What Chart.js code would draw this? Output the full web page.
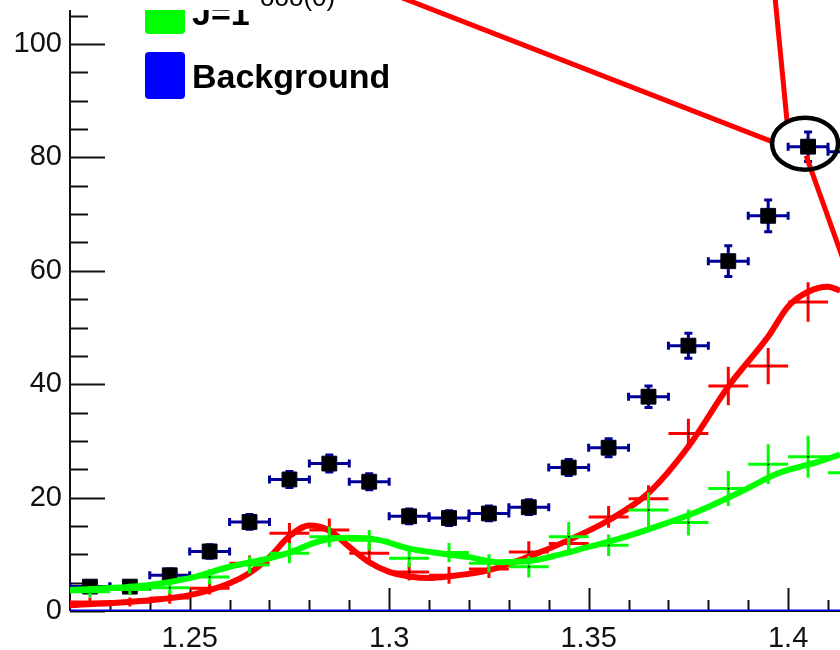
<!DOCTYPE html>
<html>
<head>
<meta charset="utf-8">
<script src="https://cdn.jsdelivr.net/npm/chart.js@4.4.0/dist/chart.umd.min.js"></script>
<style>
  html, body { margin: 0; padding: 0; background: #fff; }
</style>
</head>
<body>
<canvas id="plot" width="840" height="650"></canvas>
<script>
// bin centres and the measured yield (black squares)
var binCenters = [1.225, 1.235, 1.245, 1.255, 1.265, 1.275, 1.285, 1.295, 1.305, 1.315,
                  1.325, 1.335, 1.345, 1.355, 1.365, 1.375, 1.385, 1.395, 1.405, 1.415];
var dataY   = [4.3, 4.3, 6.3, 10.5, 15.7, 23.2, 26.0, 22.8, 16.7, 16.4,
               17.2, 18.3, 25.3, 28.8, 37.8, 46.8, 61.7, 69.7, 81.9, 81.0];
var dataErr = [1.0, 1.0, 1.1, 1.2, 1.3, 1.4, 1.5, 1.4, 1.3, 1.3,
               1.3, 1.3, 1.4, 1.6, 1.9, 2.2, 2.7, 2.8, 2.6, 2.7];

// red component (crosses)
var redY   = [1.6, 1.6, 2.3, 4.0, 8.4, 13.7, 14.3, 10.2, 6.9, 6.3,
              7.4, 10.4, 11.9, 16.6, 19.8, 31.3, 39.7, 43.2, 54.5, null];
var redErr = [0.8, 0.8, 1.0, 1.1, 1.4, 1.8, 2.0, 1.7, 1.5, 1.5,
              1.6, 1.9, 1.9, 1.9, 2.4, 2.6, 3.4, 3.2, 3.5, null];

// J=1 component (green crosses)
var greenY   = [3.4, 3.8, 4.1, 6.0, 8.1, 10.2, 13.1, 12.5, 9.3, 10.3,
                8.4, 7.8, 13.1, 11.6, 17.8, 15.6, 21.6, 25.9, 27.2, 24.4];
var greenErr = [1.0, 1.0, 1.1, 1.3, 1.5, 1.8, 1.8, 1.8, 1.6, 1.7,
                1.6, 1.9, 2.6, 1.9, 3.1, 2.3, 3.1, 3.5, 3.7, 3.5];

// smooth curves
var redCurveX = [1.22, 1.24, 1.25, 1.26, 1.265, 1.27, 1.275, 1.28, 1.285, 1.29, 1.295, 1.30,
                 1.305, 1.31, 1.315, 1.325, 1.335, 1.345, 1.355, 1.365, 1.375, 1.385, 1.395,
                 1.40, 1.405, 1.41, 1.413];
var redCurveY = [1.0, 1.9, 2.8, 4.9, 6.7, 9.5, 13.2, 15.1, 14.2, 11.3, 8.6, 6.9,
                 6.1, 5.8, 6.1, 7.2, 9.6, 12.5, 16.0, 20.8, 29.0, 39.6, 48.4,
                 53.7, 56.3, 57.2, 56.5];
var greenCurveX = [1.22, 1.24, 1.25, 1.26, 1.27, 1.275, 1.2825, 1.29, 1.2975, 1.305, 1.3125,
                   1.32, 1.3275, 1.335, 1.3425, 1.35, 1.3575, 1.3675, 1.3775, 1.3875, 1.3975,
                   1.4075, 1.413];
var greenCurveY = [3.7, 4.6, 5.8, 7.8, 9.3, 10.3, 12.3, 12.9, 12.5, 11.0, 10.2,
                   9.5, 8.6, 8.8, 9.9, 11.3, 12.7, 15.0, 17.6, 20.8, 24.3,
                   26.3, 27.6];
var bgX = [1.22, 1.413];
var bgY = [0, 0];

var xTicks = [1.25, 1.3, 1.35, 1.4];
var yTicks = [0, 20, 40, 60, 80, 100];
var legendLabels = ['J=1', 'Background'];
var topLabel = 'ooo(0)';
var halfBin = 0.005;
var circledBin = 18;

function pts(xs, ys) {
    return xs.map(function (x, i) { return { x: x, y: ys[i] }; });
}

// error bars / crosses, drawn just before their own dataset
var errorBars = {
    id: 'errorBars',
    beforeDatasetDraw: function (chart, args) {
        var ds = chart.data.datasets[args.index];
        if (!ds.errY) return;
        var xs = chart.scales.x, ys = chart.scales.y, ctx = chart.ctx;
        var area = chart.chartArea;
        ctx.save();
        ctx.beginPath();
        ctx.rect(area.left, 0, chart.width, area.bottom + 2);
        ctx.clip();
        ctx.strokeStyle = ds.errColor;
        ctx.lineWidth = 3;
        ds.data.forEach(function (p, i) {
            if (p.y == null) return;
            var e = ds.errY[i];
            var x0 = xs.getPixelForValue(p.x - halfBin), x1 = xs.getPixelForValue(p.x + halfBin);
            var px = xs.getPixelForValue(p.x), py = ys.getPixelForValue(p.y);
            var yt = ys.getPixelForValue(p.y + e), yb = ys.getPixelForValue(p.y - e);
            ctx.beginPath();
            ctx.moveTo(x0, py); ctx.lineTo(x1, py);
            ctx.moveTo(px, yt); ctx.lineTo(px, yb);
            if (ds.errCaps) {
                var c = 4;
                ctx.moveTo(x0, py - c); ctx.lineTo(x0, py + c);
                ctx.moveTo(x1, py - c); ctx.lineTo(x1, py + c);
                ctx.moveTo(px - c, yt); ctx.lineTo(px + c, yt);
                ctx.moveTo(px - c, yb); ctx.lineTo(px + c, yb);
            }
            ctx.stroke();
        });
        ctx.restore();
    }
};

// ROOT style axes: ticks pointing into the frame
var frameAxes = {
    id: 'frameAxes',
    beforeDatasetsDraw: function (chart) {
        var ctx = chart.ctx, a = chart.chartArea;
        var xs = chart.scales.x, ys = chart.scales.y;
        ctx.save();
        ctx.strokeStyle = '#111';
        ctx.lineWidth = 2;
        ctx.beginPath();
        ctx.moveTo(a.left, a.top); ctx.lineTo(a.left, a.bottom);
        ctx.moveTo(a.left, a.bottom); ctx.lineTo(a.right, a.bottom);
        var v, p;
        for (v = 0; v <= ys.max + 0.01; v += 5) {
            p = Math.round(ys.getPixelForValue(v)) + 0.5;
            var len = (v % 20 === 0) ? 35 : 18;
            ctx.moveTo(a.left, p); ctx.lineTo(a.left + len, p);
        }
        for (var k = 123; k / 100 <= xs.max; k++) {
            p = Math.round(xs.getPixelForValue(k / 100)) + 0.5;
            var l2 = (k % 5 === 0) ? 23 : 11;
            ctx.moveTo(p, a.bottom); ctx.lineTo(p, a.bottom - l2);
        }
        ctx.stroke();
        ctx.restore();
    }
};

// legend, cropped header text and the red zoom lines with the ellipse
var overlay = {
    id: 'overlay',
    afterDraw: function (chart) {
        var ctx = chart.ctx;
        var xs = chart.scales.x, ys = chart.scales.y;
        ctx.save();

        ctx.fillStyle = '#000';
        ctx.font = '26px "Liberation Sans", Arial, sans-serif';
        ctx.textBaseline = 'alphabetic';
        ctx.fillText(topLabel, 260, 6);

        ctx.save();
        ctx.beginPath();
        ctx.rect(0, 10, chart.width, chart.height);
        ctx.clip();
        ctx.fillStyle = '#00ff00';
        ctx.beginPath(); ctx.roundRect(145, -10, 40, 44, 4); ctx.fill();
        ctx.fillStyle = '#0000ff';
        ctx.beginPath(); ctx.roundRect(145, 52, 40, 47, 4); ctx.fill();
        ctx.fillStyle = '#000';
        ctx.font = 'bold 34px "Liberation Sans", Arial, sans-serif';
        ctx.fillText(legendLabels[0], 192, 25);
        ctx.fillText(legendLabels[1], 192, 88);
        ctx.restore();

        var cx = xs.getPixelForValue(binCenters[circledBin]) - 3;
        var cy = ys.getPixelForValue(dataY[circledBin]) - 3;
        var rx = 33, ry = 26;
        ctx.strokeStyle = '#ff0000';
        ctx.lineWidth = 5;
        ctx.beginPath();
        ctx.moveTo(400, -3); ctx.lineTo(cx - rx, cy - 2);
        ctx.moveTo(775, -3); ctx.lineTo(cx - 18, cy - ry * 0.84);
        ctx.moveTo(cx + 1, cy + 12); ctx.lineTo(cx + 45, cy + 135);
        ctx.moveTo(cx + rx - 2, cy - 2); ctx.lineTo(cx + rx + 30, cy - 4);
        ctx.stroke();

        ctx.strokeStyle = '#000';
        ctx.lineWidth = 4.5;
        ctx.beginPath();
        ctx.ellipse(cx, cy, rx, ry, 0, 0, Math.PI * 2);
        ctx.stroke();
        ctx.restore();
    }
};

var tickFont = { family: '"Liberation Sans", Arial, sans-serif', size: 29 };

function noEdgePadding(s) {
    s.paddingTop = 0; s.paddingBottom = 0;
    s.paddingLeft = 0; s.paddingRight = 0;
}

new Chart(document.getElementById('plot').getContext('2d'), {
    type: 'scatter',
    data: {
        datasets: [
            { label: 'Background', data: pts(bgX, bgY), showLine: true,
              borderColor: '#0000ff', borderWidth: 3, pointRadius: 0, order: 0 },
            { label: 'J=1 fit', data: pts(greenCurveX, greenCurveY), showLine: true,
              borderColor: '#00ff00', borderWidth: 6, pointRadius: 0,
              cubicInterpolationMode: 'monotone', order: 1 },
            { label: 'J=1', data: pts(binCenters, greenY), errY: greenErr, errColor: '#00ff00',
              pointRadius: 1, pointBackgroundColor: '#000', pointBorderWidth: 0, order: 2 },
            { label: 'red fit', data: pts(redCurveX, redCurveY), showLine: true,
              borderColor: '#ff0000', borderWidth: 6, pointRadius: 0,
              cubicInterpolationMode: 'monotone', order: 3 },
            { label: 'red', data: pts(binCenters, redY), errY: redErr, errColor: '#ff0000',
              pointRadius: 1, pointBackgroundColor: '#000', pointBorderWidth: 0, order: 4 },
            { label: 'Data', data: pts(binCenters, dataY), errY: dataErr, errColor: '#000099',
              errCaps: true, pointStyle: 'rect', pointRadius: 10.5,
              pointBackgroundColor: '#000', pointBorderColor: '#000022', pointBorderWidth: 1, order: 5 }
        ]
    },
    options: {
        responsive: false,
        animation: false,
        layout: { autoPadding: false, padding: { top: 10, left: 0, right: 0, bottom: 0 } },
        plugins: { legend: { display: false }, tooltip: { enabled: false } },
        scales: {
            x: {
                type: 'linear', min: 1.22, max: 1.413,
                grid: { display: false }, border: { display: false },
                afterBuildTicks: function (s) { s.ticks = xTicks.map(function (v) { return { value: v }; }); },
                afterFit: function (s) { s.height = 39; noEdgePadding(s); },
                ticks: { padding: 3, font: tickFont, color: '#111', maxRotation: 0, autoSkip: false,
                         callback: function (v) { return String(v); } }
            },
            y: {
                min: 0, max: 106,
                grid: { display: false }, border: { display: false },
                afterBuildTicks: function (s) { s.ticks = yTicks.map(function (v) { return { value: v }; }); },
                afterFit: function (s) { s.width = 70; noEdgePadding(s); },
                ticks: { padding: 0, font: tickFont, color: '#111',
                         callback: function (v) { return String(v); } }
            }
        }
    },
    plugins: [errorBars, frameAxes, overlay]
});
</script>
</body>
</html>
